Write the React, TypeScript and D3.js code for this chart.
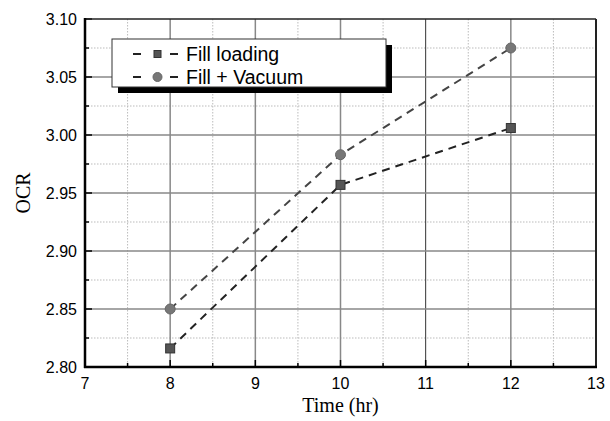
import * as d3 from 'd3'

const W = 610
const H = 421
const M = { top: 19, right: 14, bottom: 54, left: 85 }

const TIME = [8, 10, 12]
const FILL_LOADING = [2.816, 2.957, 3.006]
const FILL_VACUUM = [2.85, 2.983, 3.075]
const X_TICKS = [7, 8, 9, 10, 11, 12, 13]
const Y_TICKS = [2.8, 2.85, 2.9, 2.95, 3.0, 3.05, 3.1]
const X_MINOR = [7.5, 8.5, 9.5, 10.5, 11.5, 12.5]
const Y_MINOR = [2.825, 2.875, 2.925, 2.975, 3.025, 3.075]
const LEGEND = ['Fill loading', 'Fill + Vacuum']

export default function App() {
  const x = d3.scaleLinear().domain([7, 13]).range([M.left, W - M.right])
  const y = d3.scaleLinear().domain([2.8, 3.1]).range([H - M.bottom, M.top])
  const line = d3
    .line<[number, number]>()
    .x((d) => x(d[0]))
    .y((d) => y(d[1]))

  const s1 = TIME.map((t, i) => [t, FILL_LOADING[i]] as [number, number])
  const s2 = TIME.map((t, i) => [t, FILL_VACUUM[i]] as [number, number])

  const x0 = x.range()[0]
  const x1 = x.range()[1]
  const y0 = y.range()[0]
  const y1 = y.range()[1]
  const sans = 'Liberation Sans, Arial, sans-serif'
  const serif = 'Liberation Serif, Times New Roman, serif'

  return (
    <svg width={W} height={H} style={{ position: 'absolute', left: 0, top: 0, background: '#fff' }}>
      {/* minor dotted grid */}
      {X_MINOR.map((t) => (
        <line key={`xm${t}`} x1={x(t)} x2={x(t)} y1={y1} y2={y0} stroke="#bbb" strokeWidth={1} strokeDasharray="1.5,1.5" />
      ))}
      {Y_MINOR.map((t) => (
        <line key={`ym${t}`} x1={x0} x2={x1} y1={y(t)} y2={y(t)} stroke="#bbb" strokeWidth={1} strokeDasharray="1.5,1.5" />
      ))}
      {/* major grid */}
      {X_TICKS.slice(1, -1).map((t) => (
        <line key={`xg${t}`} x1={x(t)} x2={x(t)} y1={y1} y2={y0} stroke={t === 11 ? '#333' : '#888'} strokeWidth={t === 11 ? 1 : 1.5} />
      ))}
      {Y_TICKS.slice(1, -1).map((t) => (
        <line key={`yg${t}`} x1={x0} x2={x1} y1={y(t)} y2={y(t)} stroke="#888" strokeWidth={1.5} />
      ))}

      {/* ticks (inward) */}
      {X_TICKS.map((t) => (
        <line key={`xt${t}`} x1={x(t)} x2={x(t)} y1={y0} y2={y0 - 7} stroke="#000" strokeWidth={1.5} />
      ))}
      {X_MINOR.map((t) => (
        <line key={`xtm${t}`} x1={x(t)} x2={x(t)} y1={y0} y2={y0 - 4} stroke="#000" strokeWidth={1.5} />
      ))}
      {Y_TICKS.map((t) => (
        <line key={`yt${t}`} x1={x0} x2={x0 + 7} y1={y(t)} y2={y(t)} stroke="#000" strokeWidth={1.5} />
      ))}
      {Y_MINOR.map((t) => (
        <line key={`ytm${t}`} x1={x0} x2={x0 + 4} y1={y(t)} y2={y(t)} stroke="#000" strokeWidth={1.5} />
      ))}

      {/* frame */}
      <line x1={x0} x2={x1} y1={y1} y2={y1} stroke="#222" strokeWidth={1.5} />
      <line x1={x1} x2={x1} y1={y1} y2={y0} stroke="#222" strokeWidth={2} />
      <line x1={x0} x2={x0} y1={y1 - 1} y2={y0 + 1} stroke="#000" strokeWidth={2.5} />
      <line x1={x0 - 1} x2={x1 + 1} y1={y0} y2={y0} stroke="#000" strokeWidth={2.5} />

      {/* tick labels */}
      {X_TICKS.map((t) => (
        <text key={`xl${t}`} x={x(t)} y={y0 + 22} textAnchor="middle" fontFamily={sans} fontSize={16} fill="#000">
          {t}
        </text>
      ))}
      {Y_TICKS.map((t) => (
        <text key={`yl${t}`} x={x0 - 8} y={y(t)} dy="0.35em" textAnchor="end" fontFamily={sans} fontSize={16} fill="#000">
          {t.toFixed(2)}
        </text>
      ))}

      {/* axis titles */}
      <text x={(x0 + x1) / 2} y={H - 9} textAnchor="middle" fontFamily={serif} fontSize={20} fill="#000">
        Time (hr)
      </text>
      <text transform={`translate(30,${(y0 + y1) / 2}) rotate(-90)`} textAnchor="middle" fontFamily={serif} fontSize={20} fill="#000">
        OCR
      </text>

      {/* series */}
      <path d={line(s2) ?? ''} fill="none" stroke="#444" strokeWidth={2} strokeDasharray="8,6" />
      <path d={line(s1) ?? ''} fill="none" stroke="#222" strokeWidth={2} strokeDasharray="8,6" />
      {s1.map((d) => (
        <rect key={`sq${d[0]}`} x={x(d[0]) - 4.5} y={y(d[1]) - 4.5} width={9} height={9} fill="#555" stroke="#333" strokeWidth={1} />
      ))}
      {s2.map((d) => (
        <circle key={`ci${d[0]}`} cx={x(d[0])} cy={y(d[1])} r={5} fill="#777" stroke="#666" strokeWidth={1} />
      ))}

      {/* legend */}
      <g>
        <rect x={118} y={45} width={274} height={48} fill="#000" />
        <rect x={112} y={39} width={274} height={48} fill="#fff" stroke="#333" strokeWidth={1} />
        {LEGEND.map((label, i) => {
          const cy = 54 + i * 23
          return (
            <g key={label}>
              <line x1={133} x2={141} y1={cy} y2={cy} stroke="#222" strokeWidth={2} />
              <line x1={170} x2={178} y1={cy} y2={cy} stroke="#222" strokeWidth={2} />
              {i === 0 ? (
                <rect x={154} y={cy - 3.5} width={7} height={7} fill="#555" stroke="#333" strokeWidth={1} />
              ) : (
                <circle cx={157.5} cy={cy} r={4.5} fill="#777" stroke="#666" strokeWidth={1} />
              )}
              <text x={186} y={cy} dy="0.36em" fontFamily={sans} fontSize={19.5} fill="#000">
                {label}
              </text>
            </g>
          )
        })}
      </g>
    </svg>
  )
}
